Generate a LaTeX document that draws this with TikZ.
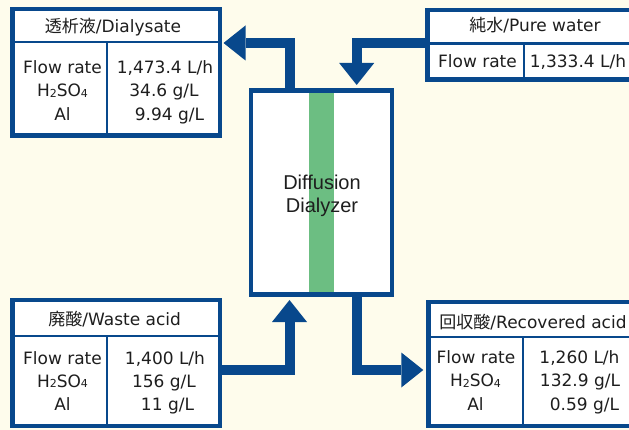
\documentclass[tikz,border=0pt]{standalone}
\usepackage{fontspec}
\setmainfont{DejaVu Sans}
\newfontfamily\cjk{Noto Sans CJK JP}
\newfontfamily\lsans{Liberation Sans}
\usetikzlibrary{arrows.meta}
\definecolor{bg}{RGB}{254,252,236}
\definecolor{navy}{RGB}{8,72,140}
\definecolor{memb}{RGB}{108,190,130}
\definecolor{txt}{RGB}{30,30,30}
\newcommand{\subn}[1]{\raisebox{-0.6pt}{\fontsize{11}{11}\selectfont #1}}
\tikzset{
  tbox/.style={draw=navy, line width=4.5pt, fill=white, inner sep=0pt},
  cellline/.style={draw=navy, line width=2.5pt},
  lbl/.style={anchor=base, inner sep=0pt, text=txt, font=\fontsize{17}{20}\selectfont},
  flow/.style={draw=navy, line width=10pt, line join=miter,
    -{Triangle[width=35pt,length=22pt,line width=0pt]}}
}
\begin{document}
\begin{tikzpicture}[x=1pt,y=-1pt]
\fill[bg] (0,0) rectangle (629,430);
\useasboundingbox (0,0) rectangle (629,430);
\clip (0,0) rectangle (629,430);

% named helper coordinates
\coordinate (xL) at (289.5,0);
\coordinate (xR) at (356.7,0);
\coordinate (yT) at (0,43);
\coordinate (yB) at (0,370);

% dialyzer
\node[tbox, minimum width=141pt, minimum height=204pt] (dial) at (321.25,192.75) {};
\fill[memb] (309.3,93) rectangle (334.3,292.5);
\node[anchor=base, inner sep=0pt, text=txt, font=\lsans\fontsize{20}{20}\selectfont] (dtx1) at (322,190) {Diffusion};
\node[anchor=base, inner sep=0pt, text=txt, font=\lsans\fontsize{20}{20}\selectfont] (dtx2) at (322,213) {Dialyzer};

% dialysate box
\node[tbox, minimum width=207.5pt, minimum height=126.5pt] (dialysate) at (116,72.5) {};
\draw[cellline] (10,42) -- (222,42);
\draw[cellline] (107,42) -- (107,138);
\node[lbl] (d0) at (113,33) {{\cjk 透析液}/Dialysate};
\node[lbl] (d1) at (62.5,74) {Flow rate};
\node[lbl] (d2) at (62.5,97) {H\subn{2}SO\subn{4}};
\node[lbl] (d3) at (62.5,121) {Al};
\node[lbl] (d4) at (165,74) {1,473.4 L/h};
\node[lbl] (d5) at (164,97) {34.6 g/L};
\node[lbl] (d6) at (169.5,121) {9.94 g/L};

% pure water box
\node[tbox, minimum width=213.5pt, minimum height=69.5pt] (purewater) at (534,45) {};
\draw[cellline] (425,43.3) -- (643,43.3);
\draw[cellline] (524,43.3) -- (524,82);
\node[lbl] (p0) at (535,32) {{\cjk 純水}/Pure water};
\node[lbl] (p1) at (477.5,68) {Flow rate};
\node[lbl] (p2) at (578,68) {1,333.4 L/h};

% waste acid box
\node[tbox, minimum width=207.5pt, minimum height=125.5pt] (waste) at (116,363) {};
\draw[cellline] (10,336) -- (222,336);
\draw[cellline] (107,336) -- (107,428);
\node[lbl] (w0) at (114.7,326) {{\cjk 廃酸}/Waste acid};
\node[lbl] (w1) at (62.5,364) {Flow rate};
\node[lbl] (w2) at (62.5,387) {H\subn{2}SO\subn{4}};
\node[lbl] (w3) at (62.5,410.7) {Al};
\node[lbl] (w4) at (165,364) {1,400 L/h};
\node[lbl] (w5) at (164,387) {156 g/L};
\node[lbl] (w6) at (167.5,410.7) {11 g/L};

% recovered acid box
\node[tbox, minimum width=212.5pt, minimum height=123.5pt] (recovered) at (534.5,364) {};
\draw[cellline] (426,337) -- (643,337);
\draw[cellline] (523,337) -- (523,428);
\node[lbl] (r0) at (533,328) {{\cjk 回収酸}/Recovered acid};
\node[lbl] (r1) at (476,363) {Flow rate};
\node[lbl] (r2) at (475.5,386.7) {H\subn{2}SO\subn{4}};
\node[lbl] (r3) at (475.5,410) {Al};
\node[lbl] (r4) at (579.5,363) {1,260 L/h};
\node[lbl] (r5) at (580,386.7) {132.9 g/L};
\node[lbl] (r6) at (584.5,410) {0.59 g/L};

% flows
\draw[flow, shorten <=-2pt, shorten >=1.5pt] (xL |- dial.north) |- (dialysate.east |- yT);
\draw[flow, shorten <=-2pt, shorten >=3.5pt] (purewater.west |- yT) -| (xR |- dial.north);
\draw[flow, shorten <=-2pt, shorten >=3pt] (waste.east |- yB) -| (xL |- dial.south);
\draw[flow, shorten <=-2pt, shorten >=2.7pt] (xR |- dial.south) |- (recovered.west |- yB);
\end{tikzpicture}
\end{document}
